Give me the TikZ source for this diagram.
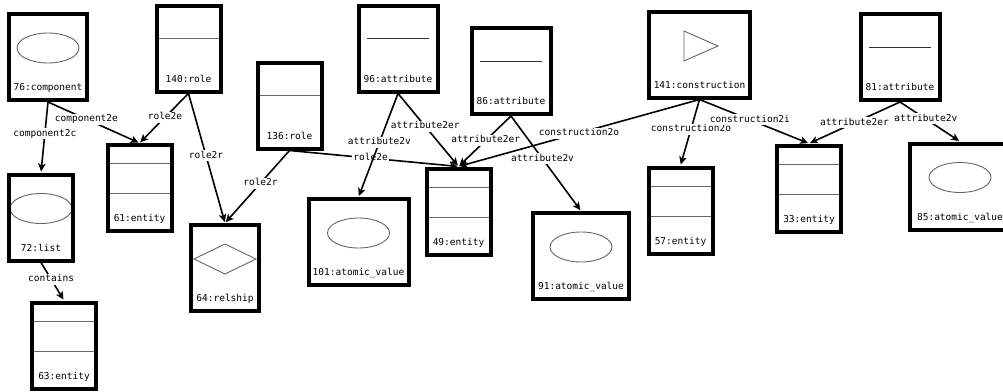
\documentclass[tikz,border=0pt]{standalone}
\usepackage{fontspec}
\setmonofont{DejaVu Sans Mono}
\usepackage{tikz}
\usetikzlibrary{shapes.geometric, arrows, arrows.meta, positioning}

\begin{document}
\begin{tikzpicture}[x=1pt, y=-1pt,
    box/.style={rectangle, draw, line width=4pt, minimum height=86pt, inner sep=0pt},
    sketch/.style={draw=black!60, line width=0.9pt},
    compbox/.style={box, minimum width=78pt, path picture={
        \draw[sketch, shift={(path picture bounding box.center)}] (0pt,9pt) ellipse [x radius=31pt, y radius=15pt];}},
    listbox/.style={compbox, minimum width=64pt},
    valuebox/.style={compbox, minimum width=100pt},
    entitybox/.style={box, minimum width=64pt, path picture={
        \draw[sketch, shift={(path picture bounding box.center)}] (-40pt,24.5pt) -- (40pt,24.5pt) (-40pt,-5.5pt) -- (40pt,-5.5pt);}},
    rolebox/.style={box, minimum width=64pt, path picture={
        \draw[sketch, shift={(path picture bounding box.center)}] (-40pt,10pt) -- (40pt,10pt);}},
    attrbox/.style={box, minimum width=79pt, path picture={
        \draw[sketch, draw=black!80, shift={(path picture bounding box.center)}] (-31pt,10pt) -- (31pt,10pt);}},
    relbox/.style={box, minimum width=68pt, path picture={
        \draw[sketch, shift={(path picture bounding box.center)}] (-31pt,9pt) -- (0pt,24pt) -- (31pt,9pt) -- (0pt,-6pt) -- cycle;}},
    consbox/.style={box, minimum width=101pt, path picture={
        \draw[sketch, shift={(path picture bounding box.center)}] (-15.5pt,23.5pt) -- (-15.5pt,-6.5pt) -- (18.5pt,8.5pt) -- cycle;}},
    tag/.style={font=\ttfamily\fontsize{9.5}{11}\selectfont, inner sep=1pt, text height=7pt, text depth=2pt},
    lbl/.style={tag, fill=white},
    arrow/.style={line width=1.6pt, ->, >={Stealth[length=8pt, width=7.5pt, inset=2pt]}, shorten >=1pt}]

    \useasboundingbox (0,0) rectangle (1003,391);

    % boxes
    \node[compbox] (c76) at (48,57) {};
    \node[tag, above=8pt of c76.south] (c76t) {76:component};
    \node[rolebox] (r140) at (188.5,48.5) {};
    \node[tag, above=8pt of r140.south] (r140t) {140:role};
    \node[rolebox] (r136) at (289.5,105.5) {};
    \node[tag, above=8pt of r136.south] (r136t) {136:role};
    \node[attrbox] (a96) at (398,48.5) {};
    \node[tag, above=8pt of a96.south] (a96t) {96:attribute};
    \node[attrbox] (a86) at (511,71) {};
    \node[tag, above=8pt of a86.south] (a86t) {86:attribute};
    \node[consbox] (k141) at (699.5,54.5) {};
    \node[tag, above=8pt of k141.south] (k141t) {141:construction};
    \node[attrbox] (a81) at (900,57) {};
    \node[tag, above=8pt of a81.south] (a81t) {81:attribute};

    \node[listbox] (l72) at (41,217.5) {};
    \node[tag, above=8pt of l72.south] (l72t) {72:list};
    \node[entitybox] (e63) at (64,345.5) {};
    \node[tag, above=8pt of e63.south] (e63t) {63:entity};
    \node[entitybox] (e61) at (139.5,188) {};
    \node[tag, above=8pt of e61.south] (e61t) {61:entity};
    \node[relbox] (rs64) at (225,268) {};
    \node[tag, above=8pt of rs64.south] (rs64t) {64:relship};
    \node[valuebox] (v101) at (358.5,242) {};
    \node[tag, above=8pt of v101.south] (v101t) {101:atomic\_value};
    \node[entitybox] (e49) at (458.5,211.5) {};
    \node[tag, above=8pt of e49.south] (e49t) {49:entity};
    \node[valuebox, minimum width=96pt] (v91) at (581,256) {};
    \node[tag, above=8pt of v91.south] (v91t) {91:atomic\_value};
    \node[entitybox] (e57) at (680.5,210.5) {};
    \node[tag, above=8pt of e57.south] (e57t) {57:entity};
    \node[entitybox] (e33) at (809,188.5) {};
    \node[tag, above=8pt of e33.south] (e33t) {33:entity};
    \node[valuebox] (v85) at (960,186.5) {};
    \node[tag, above=8pt of v85.south] (v85t) {85:atomic\_value};

    % links
    \draw[arrow] (c76.south) -- node[lbl, pos=0.45] {component2c} (l72.north);
    \draw[arrow] (c76.south) -- node[lbl, pos=0.42] {component2e} (e61.north);
    \draw[arrow] (r140.south) -- node[lbl, pos=0.48] {role2e} (e61.north);
    \draw[arrow] (r140.south) -- node[lbl, pos=0.48] {role2r} (rs64.north);
    \draw[arrow] (r136.south) -- node[lbl, pos=0.45] {role2r} (rs64.north);
    \draw[arrow] (r136.south) -- node[lbl, pos=0.48] {role2e} (e49.north);
    \draw[arrow] (a96.south) -- node[lbl, pos=0.47] {attribute2v} (v101.north);
    \draw[arrow] (a96.south) -- node[lbl, pos=0.45] {attribute2er} (e49.north);
    \draw[arrow] (a86.south) -- node[lbl, pos=0.48] {attribute2er} (e49.north);
    \draw[arrow] (a86.south) -- node[lbl, pos=0.45] {attribute2v} (v91.north);
    \draw[arrow] (k141.south) -- node[lbl, pos=0.5] {construction2o} (e49.north);
    \draw[arrow] (k141.south) -- node[lbl, pos=0.45] {construction2o} (e57.north);
    \draw[arrow] (k141.south) -- node[lbl, pos=0.46] {construction2i} (e33.north);
    \draw[arrow] (a81.south) -- node[lbl, pos=0.5] {attribute2er} (e33.north);
    \draw[arrow] (a81.south) -- node[lbl, pos=0.43] {attribute2v} (v85.north);
    \draw[arrow] (l72.south) -- node[lbl, pos=0.44] {contains} (e63.north);
\end{tikzpicture}
\end{document}
